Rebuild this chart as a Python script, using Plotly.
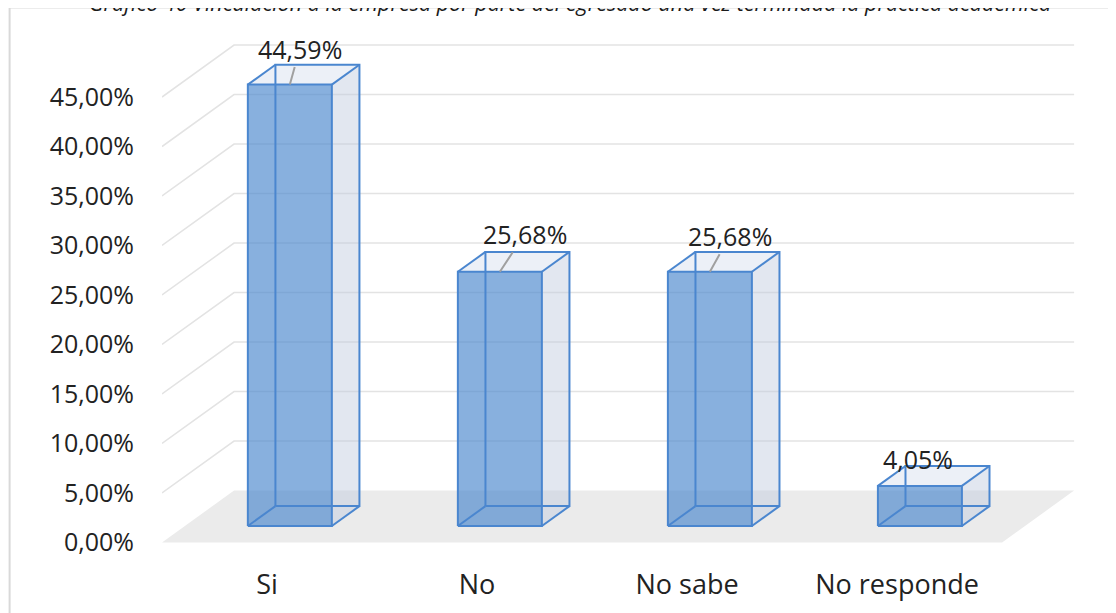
import plotly.graph_objects as go

# data
categories = ["Si", "No", "No sabe", "No responde"]
values = [0.4459, 0.2568, 0.2568, 0.0405]
y_ticks = [0, 0.05, 0.10, 0.15, 0.20, 0.25, 0.30, 0.35, 0.40, 0.45]
title_text = ("Gráfico 40 Vinculación a la empresa por parte del egresado "
              "una vez terminada la práctica académica")

# fake 3D geometry (Excel-like 3D column chart)
DEPTH_X = 0.343    # depth of the floor along x, in category units
DEPTH_Y = 0.0525   # depth of the floor along y, in value units
BAR_HALF = 0.2
Z_FRONT, Z_BACK = 0.317, 0.70

# label nudges (px) and whether a leader line is shown
label_offsets = [(10, -36), (25, -38), (20, -36), (-2, -27)]
show_leader = [True, True, True, False]

EDGE = "rgb(74,134,207)"
FONT = "Open Sans"


def proj(x, y, z):
    return x + z * DEPTH_X, y + z * DEPTH_Y


def poly(points):
    xs, ys = [], []
    for p in points:
        px, py = proj(*p)
        xs.append(px)
        ys.append(py)
    xs.append(xs[0])
    ys.append(ys[0])
    return xs, ys


fig = go.Figure()

x_min, x_max = -0.5, len(categories) - 0.5

# floor
fx, fy = poly([(x_min, 0, 0), (x_max, 0, 0), (x_max, 0, 1), (x_min, 0, 1)])
fig.add_trace(go.Scatter(x=fx, y=fy, fill="toself", fillcolor="#ebebeb",
                         mode="lines", line=dict(width=0), hoverinfo="skip"))

# gridlines: side wall diagonal + back wall horizontal
gx, gy = [], []
for v in y_ticks[1:]:
    for p in [(x_min, v, 0), (x_min, v, 1), (x_max, v, 1)]:
        px, py = proj(*p)
        gx.append(px)
        gy.append(py)
    gx.append(None)
    gy.append(None)
fig.add_trace(go.Scatter(x=gx, y=gy, mode="lines",
                         line=dict(color="#e3e3e3", width=1.5), hoverinfo="skip"))

# bars
for i, v in enumerate(values):
    l, r = i - BAR_HALF, i + BAR_HALF
    sx, sy = poly([(r, 0, Z_FRONT), (r, 0, Z_BACK), (r, v, Z_BACK), (r, v, Z_FRONT)])
    fig.add_trace(go.Scatter(x=sx, y=sy, fill="toself", fillcolor="rgba(190,202,222,0.45)",
                             mode="lines", line=dict(width=0), hoverinfo="skip"))
    tx, ty = poly([(l, v, Z_FRONT), (r, v, Z_FRONT), (r, v, Z_BACK), (l, v, Z_BACK)])
    fig.add_trace(go.Scatter(x=tx, y=ty, fill="toself", fillcolor="rgba(180,195,225,0.25)",
                             mode="lines", line=dict(width=0), hoverinfo="skip"))
    ox, oy = poly([(l, 0, Z_FRONT), (r, 0, Z_FRONT), (r, v, Z_FRONT), (l, v, Z_FRONT)])
    fig.add_trace(go.Scatter(x=ox, y=oy, fill="toself", fillcolor="rgba(75,135,205,0.66)",
                             mode="lines", line=dict(width=0), hoverinfo="skip"))
    # edges
    ex, ey = [], []
    for z in (Z_BACK, Z_FRONT):
        px, py = poly([(l, 0, z), (r, 0, z), (r, v, z), (l, v, z)])
        ex += px + [None]
        ey += py + [None]
    for (a, b) in [(l, 0), (r, 0), (r, v), (l, v)]:
        p1 = proj(a, b, Z_FRONT)
        p2 = proj(a, b, Z_BACK)
        ex += [p1[0], p2[0], None]
        ey += [p1[1], p2[1], None]
    fig.add_trace(go.Scatter(x=ex, y=ey, mode="lines",
                             line=dict(color=EDGE, width=2), hoverinfo="skip"))

    # data label
    ax, ay = label_offsets[i]
    px, py = proj(i, v, Z_FRONT)
    fig.add_annotation(x=px, y=py, xref="x", yref="y",
                       text=f"{v * 100:.2f}%".replace(".", ","),
                       showarrow=True, arrowhead=0, arrowwidth=2,
                       arrowcolor="#a0a0a0" if show_leader[i] else "rgba(0,0,0,0)",
                       ax=ax, ay=ay, startstandoff=0,
                       font=dict(family=FONT, size=25, color="#222222"))

# title (cut off at the top, as in the source)
fig.add_annotation(text=title_text, xref="paper", yref="paper", x=0.444, y=1.032,
                   xanchor="center", yanchor="middle", showarrow=False,
                   font=dict(family=FONT, size=21.5, color="#1a1a1a", style="italic"))

# chart border
fig.add_shape(type="rect", xref="paper", yref="paper", x0=-0.166, x1=1.2, y0=-0.3, y1=1.023,
              line=dict(color="#d9d9d9", width=2), layer="below")

fig.update_layout(
    width=1116, height=613,
    margin=dict(l=154, r=44, t=12, b=61),
    plot_bgcolor="white", paper_bgcolor="white",
    showlegend=False,
    separators=",.",
    font=dict(family=FONT, size=25, color="#222222"),
    xaxis=dict(range=[x_min, 3.871], tickvals=list(range(len(categories))), ticktext=categories,
               tickfont=dict(size=27),
               showgrid=False, zeroline=False, showline=False,
               ticks="outside", ticklen=1, tickcolor="rgba(0,0,0,0)", fixedrange=True),
    yaxis=dict(range=[-0.01768, 0.5278], tickvals=y_ticks, tickformat=".2%",
               showgrid=False, zeroline=False, showline=False,
               ticks="outside", ticklen=22, tickcolor="rgba(0,0,0,0)", fixedrange=True),
)

fig.write_html("out.html")
